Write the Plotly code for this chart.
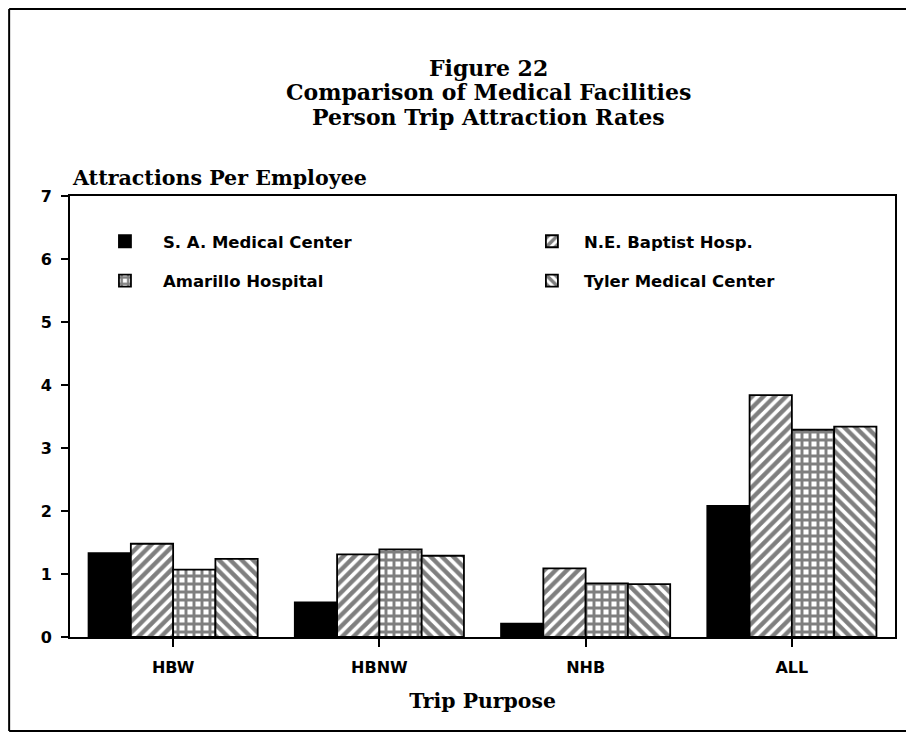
import plotly.graph_objects as go

categories = ["HBW", "HBNW", "NHB", "ALL"]
series_names = ["S. A. Medical Center", "N.E. Baptist Hosp.", "Amarillo Hospital", "Tyler Medical Center"]
sa_medical = [1.33, 0.55, 0.21, 2.08]
ne_baptist = [1.48, 1.31, 1.09, 3.84]
amarillo = [1.07, 1.39, 0.85, 3.29]
tyler = [1.24, 1.29, 0.84, 3.34]
y_ticks = [0, 1, 2, 3, 4, 5, 6, 7]
title_lines = ["Figure 22", "Comparison of Medical Facilities", "Person Trip Attraction Rates"]

values = [sa_medical, ne_baptist, amarillo, tyler]
patterns = ["", "/", "+", "\\"]
colors = ["black", "white", "white", "white"]
solidity = [0.3, 0.55, 0.6, 0.55]
legends = ["legend", "legend2", "legend", "legend2"]

OFF = 8  # page body margin
W, H = 898, 724
L, R, T, B = 62, 9, 188, 95
pw, ph = W - L - R, H - T - B

def px_x(p):
    return (p - OFF - L) / pw

def px_y(p):
    return (H - B - (p - OFF)) / ph

fig = go.Figure()
for i, name in enumerate(series_names):
    marker = dict(color=colors[i], line=dict(color="black", width=1.8))
    if patterns[i]:
        marker["pattern"] = dict(shape=patterns[i], fgcolor="black", bgcolor="white",
                                 size=8, solidity=solidity[i])
    fig.add_trace(go.Bar(x=categories, y=values[i], name=name, marker=marker,
                         legend=legends[i], legendgroup=name))

serif = "DejaVu Serif"
sans = "DejaVu Sans"

annotations = []
for line, yp in zip(title_lines, [68, 92, 117]):
    annotations.append(dict(text=line, xref="paper", yref="paper",
                            x=px_x(490), y=px_y(yp), xanchor="center", yanchor="middle",
                            showarrow=False,
                            font=dict(family=serif, size=22, color="black", weight="bold")))
annotations.append(dict(text="Attractions Per Employee", xref="paper", yref="paper",
                        x=px_x(70), y=px_y(178), xanchor="left", yanchor="middle",
                        showarrow=False,
                        font=dict(family=serif, size=20.6, color="black", weight="bold")))

legend_font = dict(family=sans, size=16.5, color="black", weight="bold")

frame_line = dict(color="black", width=2)
frame = [
    dict(type="line", xref="paper", yref="paper", x0=px_x(9), x1=px_x(960),
         y0=px_y(9), y1=px_y(9), line=frame_line),
    dict(type="line", xref="paper", yref="paper", x0=px_x(9), x1=px_x(960),
         y0=px_y(731), y1=px_y(731), line=frame_line),
    dict(type="line", xref="paper", yref="paper", x0=px_x(9), x1=px_x(9),
         y0=px_y(9), y1=px_y(731), line=frame_line),
]

fig.update_layout(
    width=W, height=H,
    margin=dict(l=L, r=R, t=T, b=B),
    paper_bgcolor="white", plot_bgcolor="white",
    barmode="group", bargap=0.18, bargroupgap=0,
    legend=dict(x=px_x(163 - 76), y=px_y(224), xanchor="left", yanchor="top",
                orientation="v", tracegroupgap=15, itemwidth=66,
                bgcolor="rgba(0,0,0,0)", font=legend_font),
    legend2=dict(x=px_x(585 - 64), y=px_y(224), xanchor="left", yanchor="top",
                 orientation="v", tracegroupgap=15, itemwidth=54,
                 bgcolor="rgba(0,0,0,0)", font=legend_font),
    xaxis=dict(showline=True, linecolor="black", linewidth=2, mirror=True,
               ticks="outside", ticklen=8, tickwidth=2, tickcolor="black",
               ticklabelstandoff=7,
               tickfont=dict(family=sans, size=16, color="black", weight="bold"),
               title=dict(text="Trip Purpose", standoff=18,
                          font=dict(family=serif, size=20.4, color="black", weight="bold"))),
    yaxis=dict(range=[0, 7], tickvals=y_ticks, showline=True, linecolor="black",
               linewidth=2, mirror=True, showgrid=False, zeroline=False,
               ticks="outside", ticklen=7, tickwidth=2, tickcolor="black",
               ticklabelstandoff=6,
               tickfont=dict(family=sans, size=16, color="black", weight="bold")),
    annotations=annotations,
    shapes=frame,
)

fig.write_html("out.html")
